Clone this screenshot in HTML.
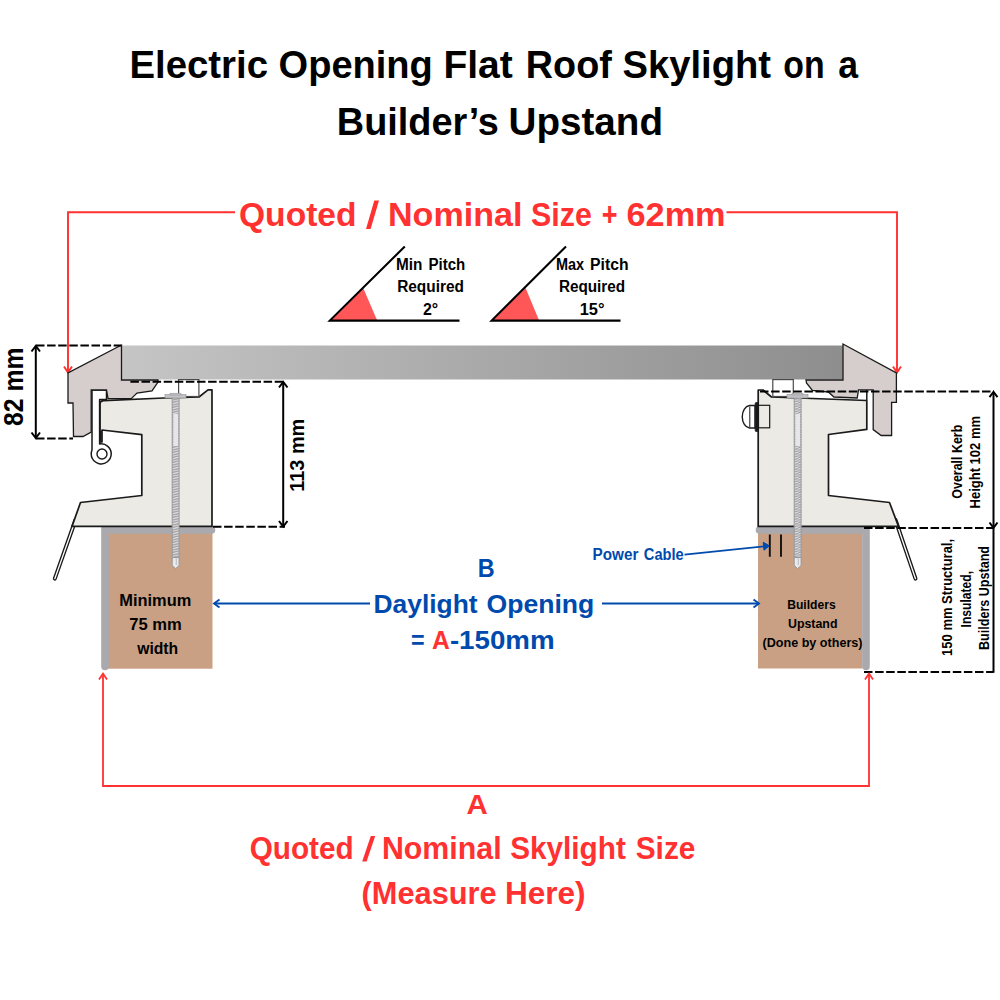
<!DOCTYPE html>
<html><head><meta charset="utf-8">
<style>
html,body{margin:0;padding:0;background:#fff;}
body{width:1000px;height:1000px;overflow:hidden;font-family:"Liberation Sans",sans-serif;}
svg{display:block;}
text{font-family:"Liberation Sans",sans-serif;font-weight:bold;}
</style></head><body>
<svg width="1000" height="1000" viewBox="0 0 1000 1000">
<defs>
<linearGradient id="glass" x1="0" x2="1" y1="0" y2="0">
<stop offset="0" stop-color="#c6c5c6"/><stop offset="0.5" stop-color="#aaa9a9"/><stop offset="1" stop-color="#8f8e8e"/>
</linearGradient>
<pattern id="thread" width="7.2" height="2.5" patternUnits="userSpaceOnUse" x="172" y="398">
<rect width="7.2" height="2.5" fill="#dededf"/><path d="M0 2.1 L7.2 0.5" stroke="#95959a" stroke-width="1.05"/>
</pattern>
</defs>
<rect width="1000" height="1000" fill="#fff"/>

<!-- TITLE -->

<!-- BIG TEXTS -->
<g id="bigtexts" text-anchor="start">
<text id="title1" y="78" font-size="39.5" fill="#000"><tspan x="129.5" textLength="138.5" lengthAdjust="spacingAndGlyphs">Electric</tspan><tspan x="278.6" textLength="154.2" lengthAdjust="spacingAndGlyphs">Opening</tspan><tspan x="443.4" textLength="69.4" lengthAdjust="spacingAndGlyphs">Flat</tspan><tspan x="525.8" textLength="86.0" lengthAdjust="spacingAndGlyphs">Roof</tspan><tspan x="622.6" textLength="148.5" lengthAdjust="spacingAndGlyphs">Skylight</tspan><tspan x="783.3" textLength="41.4" lengthAdjust="spacingAndGlyphs">on</tspan><tspan x="838.3" textLength="19.8" lengthAdjust="spacingAndGlyphs">a</tspan></text>
<text id="title2" y="134.5" font-size="39.5" fill="#000"><tspan x="336.8" textLength="162.1" lengthAdjust="spacingAndGlyphs">Builder’s</tspan><tspan x="508.6" textLength="154.4" lengthAdjust="spacingAndGlyphs">Upstand</tspan></text>
<text id="quoted1" y="225.7" font-size="33.5" fill="#ff3131"><tspan x="239.0" textLength="117.5" lengthAdjust="spacingAndGlyphs">Quoted</tspan><tspan x="388.0" textLength="134.4" lengthAdjust="spacingAndGlyphs">Nominal</tspan><tspan x="531.0" textLength="60.8" lengthAdjust="spacingAndGlyphs">Size</tspan><tspan x="601.7" textLength="15.8" lengthAdjust="spacingAndGlyphs">+</tspan><tspan x="626.5" textLength="99.1" lengthAdjust="spacingAndGlyphs">62mm</tspan></text>
<text id="B" y="576.6" font-size="25.7" fill="#004aad"><tspan x="477.8" textLength="16.9" lengthAdjust="spacingAndGlyphs">B</tspan></text>
<text id="daylight" y="612.7" font-size="25.7" fill="#004aad"><tspan x="373.5" textLength="104.1" lengthAdjust="spacingAndGlyphs">Daylight</tspan><tspan x="486.5" textLength="107.8" lengthAdjust="spacingAndGlyphs">Opening</tspan></text>
<text id="eq" y="648.9" font-size="25.7" fill="#004aad"><tspan x="411.1" textLength="13.6" lengthAdjust="spacingAndGlyphs">=</tspan><tspan x="432.0" textLength="17.8" lengthAdjust="spacingAndGlyphs" fill="#ff3131">A</tspan><tspan x="449.9" textLength="104.7" lengthAdjust="spacingAndGlyphs">-150mm</tspan></text>
<text id="A" y="814" font-size="28" fill="#ff3131"><tspan x="466.5" textLength="21.3" lengthAdjust="spacingAndGlyphs">A</tspan></text>
<text id="quoted2" y="859.3" font-size="31.5" fill="#ff3131"><tspan x="249.7" textLength="104.0" lengthAdjust="spacingAndGlyphs">Quoted</tspan><tspan x="381.9" textLength="119.7" lengthAdjust="spacingAndGlyphs">Nominal</tspan><tspan x="510.2" textLength="115.6" lengthAdjust="spacingAndGlyphs">Skylight</tspan><tspan x="635.7" textLength="59.7" lengthAdjust="spacingAndGlyphs">Size</tspan></text>
<text id="measure" y="903.6" font-size="31.5" fill="#ff3131"><tspan x="361.6" textLength="135.0" lengthAdjust="spacingAndGlyphs">(Measure</tspan><tspan x="504.9" textLength="80.6" lengthAdjust="spacingAndGlyphs">Here)</tspan></text>
</g>

<g id="smalltexts" text-anchor="start">
<text id="min1" y="269.5" font-size="16" fill="#000"><tspan x="395.9" textLength="26.4" lengthAdjust="spacingAndGlyphs">Min</tspan><tspan x="428.5" textLength="36.8" lengthAdjust="spacingAndGlyphs">Pitch</tspan></text>
<text id="min2" y="291.7" font-size="16" fill="#000"><tspan x="397.2" textLength="66.7" lengthAdjust="spacingAndGlyphs">Required</tspan></text>
<text id="min3" y="314.6" font-size="16" fill="#000"><tspan x="422.9" textLength="15.2" lengthAdjust="spacingAndGlyphs">2°</tspan></text>
<text id="max1" y="269.5" font-size="16" fill="#000"><tspan x="555.9" textLength="28.1" lengthAdjust="spacingAndGlyphs">Max</tspan><tspan x="590.1" textLength="38.4" lengthAdjust="spacingAndGlyphs">Pitch</tspan></text>
<text id="max2" y="291.7" font-size="16" fill="#000"><tspan x="558.9" textLength="66.2" lengthAdjust="spacingAndGlyphs">Required</tspan></text>
<text id="max3" y="314.6" font-size="16" fill="#000"><tspan x="579.7" textLength="24.8" lengthAdjust="spacingAndGlyphs">15°</tspan></text>
<text id="power" y="559.8" font-size="15.8" fill="#004aad"><tspan x="592.6" textLength="45.8" lengthAdjust="spacingAndGlyphs">Power</tspan><tspan x="643.8" textLength="39.9" lengthAdjust="spacingAndGlyphs">Cable</tspan></text>
</g>

<polygon points="374.3,200.6 379,200.6 370.6,229 366,229" fill="#ff3131"/>
<polygon points="370.8,836 375.2,836 366.6,861.6 362.2,861.6" fill="#ff3131"/>

<!-- TOP RED DIM -->
<g id="topdim" stroke="#ff3131" stroke-width="1.9" fill="none">
<path d="M235 212.3 H68 V371"/><path d="M64 366.5 L68 372.5 L72 366.5"/>
<path d="M726.5 212.3 H897 V371"/><path d="M893 366.5 L897 372.5 L901 366.5"/>
</g>

<!-- PITCH ICONS -->
<g id="pitch">
<polygon points="330,320.6 363.2,287.9 377.2,320.6" fill="#ff5757"/>
<polygon points="492,320.6 525.6,287.9 539.1,320.6" fill="#ff5757"/>
<path d="M404.8 246.5 L329.8 320.6 H459.5" stroke="#000" stroke-width="2.1" fill="none" stroke-linejoin="miter"/>
<path d="M566 246.5 L491.6 320.6 H620.5" stroke="#000" stroke-width="2.1" fill="none"/>
</g>

<!-- GLASS -->
<rect x="121.5" y="345.5" width="722" height="34" fill="url(#glass)"/>

<!-- LEFT ASSEMBLY -->
<g id="left">
<rect x="108" y="533" width="104.5" height="135.7" fill="#c9a083"/>
<!-- flashing leg -->
<path d="M75.5 520 L54.8 578.7" stroke="#1a1a1a" stroke-width="4" stroke-linecap="round" fill="none"/>
<path d="M75.5 520 L54.8 578.7" stroke="#fff" stroke-width="1.3" stroke-linecap="round" fill="none"/>
<path d="M105 666.5 V530 H211.5" stroke="#a9a9ae" stroke-width="7.6" fill="none" stroke-linecap="round" stroke-linejoin="miter"/>
<!-- kerb body -->
<path d="M104 400.6 L164 398 L199 397 L208 389.8 H212 V526.4 H72 L80.5 502.5 L141.8 495.5 V434.7 L102 430 V442 H100 V404 Q100 400.6 104 400.6 Z" fill="#ebeae4" stroke="#1a1a1a" stroke-width="1.7" stroke-linejoin="round"/>
<!-- small box -->
<rect x="178.6" y="379.6" width="20.3" height="16.9" fill="#fff" stroke="#4a4a4a" stroke-width="1.2"/>
<!-- hinge -->
<path d="M92 390 H106.5 V399.5 H99.6 V444 A10 10 0 1 1 92 450 Z" fill="#fff" stroke="#1a1a1a" stroke-width="1.5" stroke-linejoin="round"/>
<circle cx="102" cy="454" r="5" fill="#fff" stroke="#1a1a1a" stroke-width="1.4"/>
<path d="M100.6 431 V442" stroke="#1a1a1a" stroke-width="2.2"/>
<!-- cap -->
<path d="M121.5 345 V380 H158 V382 L152 390.8 L137 393 L131.2 398.6 H108 L106.5 390 H91.2 V432 L83 436.5 H73.5 L73 403 H68 V373 Z" fill="#d6cdcd" stroke="#1a1a1a" stroke-width="1.3" stroke-linejoin="miter"/>
<!-- screw -->
<rect x="172.2" y="398" width="6.9" height="160" fill="url(#thread)" stroke="#98989d" stroke-width="1"/>
<rect x="173.4" y="414" width="4.6" height="32" fill="#e6e6e8"/>
<path d="M172.2 557.6 V565.5 L175.65 568.6 L179.1 565.5 V557.6 Z" fill="#e9e9eb" stroke="#98989d" stroke-width="1"/>
<path d="M176.3 558.5 V565" stroke="#b5b5b9" stroke-width="0.9"/>
<rect x="165" y="394.6" width="21" height="3.4" fill="#c2c2c5" stroke="#909095" stroke-width="0.6"/>
<rect x="170" y="393.2" width="11" height="1.8" fill="#c2c2c5" stroke="#909095" stroke-width="0.5"/>
</g>

<!-- RIGHT ASSEMBLY -->
<g id="right">
<rect x="758" y="533" width="104.5" height="135.5" fill="#c9a083"/>
<path d="M895.5 520 L915.5 578.7" stroke="#1a1a1a" stroke-width="4" stroke-linecap="round" fill="none"/>
<path d="M895.5 520 L915.5 578.7" stroke="#fff" stroke-width="1.3" stroke-linecap="round" fill="none"/>
<path d="M866 666.5 V530 H759.5" stroke="#a9a9ae" stroke-width="7.6" fill="none" stroke-linecap="round"/>
<!-- kerb -->
<path d="M758.2 390 H763 L771.5 397 L866.8 400.5 V429.4 L828.5 434.5 V495.5 L889.5 502.5 L898.5 526.4 H758.2 Z" fill="#ebeae4" stroke="#1a1a1a" stroke-width="1.7" stroke-linejoin="round"/>
<rect x="772.8" y="379.6" width="20.5" height="16.9" fill="#fff" stroke="#4a4a4a" stroke-width="1.2"/>
<!-- motor bolt -->
<path d="M755 405.5 H749.5 A8 11.3 0 0 0 749.5 428 H755 Z" fill="#fff" stroke="#1a1a1a" stroke-width="1.4"/>
<path d="M749.8 406.5 V427" stroke="#1a1a1a" stroke-width="1"/>
<rect x="758.5" y="405.3" width="11.2" height="22.5" fill="#ebeae4" stroke="#1a1a1a" stroke-width="1.2"/>
<rect x="755.2" y="402.5" width="3" height="29" fill="#1a1a1a" stroke="#1a1a1a" stroke-width="0.8" rx="1"/>
<!-- cap -->
<path d="M843 344 V380 H806 L806.5 383 L812.4 390.4 L828.4 392 L834 397 L857.2 398 L858.5 389.8 H873.2 V429.6 L881.2 435.5 H891.6 V402.4 H896.4 V373 Z" fill="#d6cdcd" stroke="#1a1a1a" stroke-width="1.3"/>
<path d="M866.8 390 V400" stroke="#1a1a1a" stroke-width="1.5"/>
<!-- screw -->
<rect x="794.2" y="398" width="6.9" height="160" fill="url(#thread)" stroke="#98989d" stroke-width="1"/>
<rect x="795.4" y="414" width="4.6" height="32" fill="#e6e6e8"/>
<path d="M794.2 557.6 V565.5 L797.65 568.6 L801.1 565.5 V557.6 Z" fill="#e9e9eb" stroke="#98989d" stroke-width="1"/>
<path d="M798.3 558.5 V565" stroke="#b5b5b9" stroke-width="0.9"/>
<rect x="787" y="394.6" width="21" height="3.4" fill="#c2c2c5" stroke="#909095" stroke-width="0.6"/>
<rect x="792" y="393.2" width="11" height="1.8" fill="#c2c2c5" stroke="#909095" stroke-width="0.5"/>
<!-- cable marks -->
<path d="M769.8 534.5 V556.8 M781 534.5 V556.8" stroke="#111" stroke-width="1.9"/>
</g>

<!-- BLACK DIMS -->
<g id="dims" stroke="#000" fill="none" stroke-width="2">
<path d="M36 345.6 H121" stroke-dasharray="8.5 2.6"/>
<path d="M36 438.6 H73" stroke-dasharray="8.5 2.6"/>
<path d="M35.8 346.5 V437.5"/><path d="M31.5 351.5 L35.8 346 L40 351.5"/><path d="M31.5 432.5 L35.8 438 L40 432.5"/>
<path d="M130.4 381.8 H285" stroke-dasharray="8.5 2.6"/>
<path d="M213 526.8 H285" stroke-dasharray="8.5 2.6"/>
<path d="M283.2 382.5 V526"/><path d="M279 387.5 L283.2 382 L287.5 387.5"/><path d="M279 521 L283.2 526.5 L287.5 521"/>
<path d="M760 391.4 H994" stroke-dasharray="8.5 2.6"/>
<path d="M864 528 H994" stroke-dasharray="8.5 2.6"/>
<path d="M864 672 H993.5" stroke-dasharray="8.5 2.6"/>
<path d="M993.5 392.4 V672.8"/><path d="M989.5 397.2 L993.5 392 L997.5 397.2"/><path d="M989.5 522.5 L993.5 527.8 L997.5 522.5"/>
</g>
<g fill="#000" text-anchor="middle">
<text transform="translate(23.4 386.8) rotate(-90)" font-size="27.4" textLength="78.5" lengthAdjust="spacingAndGlyphs">82 mm</text>
<text transform="translate(303.6 455.2) rotate(-90)" font-size="20.8" textLength="73" lengthAdjust="spacingAndGlyphs">113 mm</text>
<text transform="translate(961.6 461.7) rotate(-90)" font-size="14.5" textLength="74" lengthAdjust="spacingAndGlyphs">Overall Kerb</text>
<text transform="translate(979.8 462.2) rotate(-90)" font-size="14.5" textLength="92.5" lengthAdjust="spacingAndGlyphs">Height 102 mm</text>
<text transform="translate(952.2 597.4) rotate(-90)" font-size="14.5" textLength="117" lengthAdjust="spacingAndGlyphs">150 mm Structural,</text>
<text transform="translate(971 599.2) rotate(-90)" font-size="14.5" textLength="56.5" lengthAdjust="spacingAndGlyphs">Insulated,</text>
<text transform="translate(989.2 598) rotate(-90)" font-size="14.5" textLength="104" lengthAdjust="spacingAndGlyphs">Builders Upstand</text>
</g>

<!-- TIMBER LABELS -->
<g fill="#000" text-anchor="middle">
<g font-size="16.8"><text x="155.3" y="606.1" textLength="72" lengthAdjust="spacingAndGlyphs">Minimum</text><text x="155.5" y="630" textLength="52.5" lengthAdjust="spacingAndGlyphs">75 mm</text><text x="157.7" y="653.6" textLength="41" lengthAdjust="spacingAndGlyphs">width</text></g>
<g font-size="13.6"><text x="811.4" y="609.3" textLength="48.5" lengthAdjust="spacingAndGlyphs">Builders</text><text x="812.7" y="628.2" textLength="49.5" lengthAdjust="spacingAndGlyphs">Upstand</text><text x="812.5" y="647" textLength="100" lengthAdjust="spacingAndGlyphs">(Done by others)</text></g>
</g>

<!-- BLUE -->
<g id="blue" stroke="#004aad" stroke-width="1.8" fill="none">
<path d="M214 603.5 H370"/><path d="M219.5 599.5 L214 603.5 L219.5 607.5"/>
<path d="M602 603.5 H759"/><path d="M753.5 599.5 L759 603.5 L753.5 607.5"/>
<path d="M684.5 554.7 L767 546.1"/><path d="M763.2 542.2 L769.4 545.8 L764 550.2 Z" fill="#004aad" stroke-width="1"/>
</g>
<g fill="#004aad" text-anchor="middle">
</g>

<!-- BOTTOM RED -->
<g stroke="#ff3131" stroke-width="1.8" fill="none">
<path d="M103 674 V786 H869 V674"/>
<path d="M99 679.5 L103 673.5 L107 679.5"/><path d="M865 679.5 L869 673.5 L873 679.5"/>
</g>
<g fill="#ff3131" text-anchor="middle">
</g>
</svg>
</body></html>
